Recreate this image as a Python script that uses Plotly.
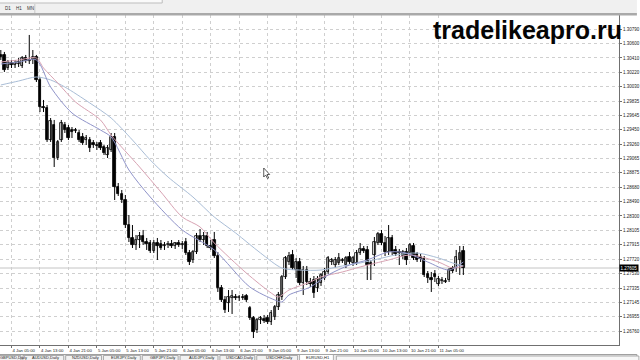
import plotly.graph_objects as go

# ---------------- data ----------------
bar_index = list(range(-1, 130))
opens = [1.30450,1.30450,1.30276,1.30343,1.30316,1.30329,1.30303,1.30409,1.30369,1.30383,
 1.30423,1.30116,1.29755,1.29742,1.29314,1.29515,1.29074,1.29314,1.29515,1.29475,
 1.29448,1.29435,1.29408,1.29354,1.29314,1.29314,1.29274,1.29248,1.29274,1.29221,
 1.29114,1.29181,1.29354,1.28687,1.28593,1.28513,1.28179,1.28006,1.27912,1.27979,
 1.28032,1.27952,1.27939,1.27832,1.27939,1.27926,1.27899,1.27912,1.27926,1.27899,
 1.27939,1.27912,1.27952,1.27805,1.27712,1.27819,1.28032,1.27979,1.28032,1.27899,
 1.27979,1.27765,1.27338,1.27178,1.27138,1.27205,1.27218,1.27205,1.27218,1.27231,
 1.27071,1.26937,1.26777,1.26911,1.26924,1.26937,1.26884,1.26951,1.27084,1.27218,
 1.27485,1.27685,1.27779,1.27578,1.27685,1.27405,1.27578,1.27418,1.27445,1.27338,
 1.27405,1.27472,1.27552,1.27685,1.27645,1.27672,1.27699,1.27645,1.27752,1.27672,
 1.27672,1.27805,1.27859,1.27846,1.27672,1.27779,1.27939,1.28059,1.27939,1.27819,
 1.28006,1.27846,1.27819,1.27765,1.27819,1.27805,1.27899,1.27792,1.27752,1.27725,
 1.27525,1.27472,1.27525,1.27392,1.27432,1.27418,1.27445,1.27605,1.27605,1.27712,
 1.27832]
highs = [1.30516,1.30490,1.30383,1.30383,1.30383,1.30409,1.30436,1.30450,1.30717,1.30516,
 1.30450,1.30156,1.29849,1.29782,1.29608,1.29582,1.29314,1.29582,1.29555,1.29515,
 1.29488,1.29475,1.29448,1.29408,1.29381,1.29354,1.29314,1.29288,1.29314,1.29248,
 1.29248,1.29408,1.29408,1.28740,1.28647,1.28580,1.28313,1.28179,1.28046,1.28086,
 1.28113,1.28006,1.27979,1.27979,1.28006,1.27979,1.27952,1.27966,1.27979,1.27952,
 1.27979,1.27966,1.28006,1.27846,1.27846,1.28073,1.28126,1.28086,1.28086,1.27979,
 1.28086,1.27819,1.27378,1.27231,1.27311,1.27311,1.27258,1.27245,1.27258,1.27258,
 1.27098,1.26964,1.26937,1.26964,1.26978,1.26978,1.27044,1.27111,1.27285,1.27512,
 1.27765,1.27819,1.27846,1.27739,1.27739,1.27632,1.27632,1.27472,1.27498,1.27498,
 1.27538,1.27605,1.27765,1.27739,1.27752,1.27805,1.27739,1.27765,1.27819,1.27765,
 1.27846,1.27939,1.27899,1.27899,1.27712,1.28019,1.28086,1.28113,1.28032,1.28179,
 1.28046,1.27899,1.27859,1.27846,1.27872,1.27939,1.27939,1.27819,1.27792,1.27765,
 1.27565,1.27552,1.27578,1.27498,1.27485,1.27472,1.27605,1.27632,1.27846,1.27899,
 1.27899]
lows = [1.30383,1.30223,1.30249,1.30276,1.30276,1.30289,1.30276,1.30343,1.30329,1.30329,
 1.30089,1.29688,1.29688,1.29288,1.29288,1.28954,1.29047,1.29288,1.29408,1.29314,
 1.29341,1.29408,1.29288,1.29248,1.29248,1.29154,1.29208,1.29181,1.29181,1.29114,
 1.29074,1.29154,1.28513,1.28567,1.28473,1.28139,1.27952,1.27872,1.27846,1.27872,
 1.27912,1.27846,1.27805,1.27805,1.27712,1.27846,1.27846,1.27872,1.27872,1.27859,
 1.27886,1.27859,1.27779,1.27645,1.27672,1.27792,1.27952,1.27912,1.27872,1.27846,
 1.27739,1.27285,1.27151,1.27004,1.27018,1.26991,1.27178,1.27164,1.27178,1.27151,
 1.26911,1.26670,1.26737,1.26857,1.26871,1.26857,1.26844,1.26911,1.27044,1.27178,
 1.27458,1.27645,1.27578,1.27472,1.27378,1.27245,1.27378,1.27351,1.27205,1.27285,
 1.27365,1.27445,1.27525,1.27645,1.27605,1.27645,1.27672,1.27605,1.27659,1.27632,
 1.27645,1.27779,1.27805,1.27445,1.27445,1.27632,1.27912,1.27912,1.27765,1.27779,
 1.27779,1.27765,1.27645,1.27725,1.27645,1.27765,1.27712,1.27685,1.27685,1.27485,
 1.27405,1.27285,1.27418,1.27365,1.27392,1.27405,1.27418,1.27538,1.27552,1.27512,
 1.27512]
closes = [1.30423,1.30249,1.30356,1.30316,1.30343,1.30356,1.30409,1.30369,1.30383,1.30423,
 1.30116,1.29755,1.29742,1.29314,1.29568,1.29074,1.29288,1.29541,1.29448,1.29341,
 1.29421,1.29448,1.29314,1.29274,1.29341,1.29208,1.29248,1.29234,1.29208,1.29141,
 1.29208,1.29354,1.28687,1.28593,1.28513,1.28179,1.28006,1.27912,1.27979,1.28032,
 1.27952,1.27926,1.27832,1.27939,1.27899,1.27872,1.27912,1.27926,1.27899,1.27939,
 1.27912,1.27926,1.27805,1.27685,1.27819,1.28032,1.27979,1.28032,1.27899,1.27872,
 1.27765,1.27338,1.27178,1.27044,1.27218,1.27231,1.27205,1.27218,1.27205,1.27178,
 1.26937,1.26751,1.26911,1.26937,1.26897,1.26884,1.27004,1.27084,1.27245,1.27485,
 1.27739,1.27765,1.27605,1.27685,1.27405,1.27578,1.27418,1.27392,1.27271,1.27458,
 1.27512,1.27552,1.27739,1.27712,1.27712,1.27739,1.27712,1.27739,1.27685,1.27739,
 1.27805,1.27859,1.27832,1.27645,1.27645,1.27952,1.28059,1.27939,1.27819,1.28006,
 1.27819,1.27792,1.27805,1.27819,1.27712,1.27912,1.27739,1.27712,1.27725,1.27512,
 1.27472,1.27445,1.27485,1.27458,1.27445,1.27432,1.27578,1.27565,1.27752,1.27805,
 1.27605]

# moving-average lines (bar index, price)
ma_slow_x = [-1, 4, 9, 13, 17, 24, 30, 36, 41, 46, 53, 59, 65, 72, 78, 83, 89, 95, 100, 105, 110, 116, 122, 126, 129]
ma_slow_y = [1.30049,1.30102,1.30156,1.30116,1.30022,1.29809,1.29608,1.29314,1.29047,1.28820,1.28553,1.28286,1.28073,
             1.27805,1.27605,1.27578,1.27578,1.27632,1.27672,1.27725,1.27779,1.27805,1.27739,1.27672,1.27632]
ma_mid_x = [-1, 4, 9, 11, 15, 20, 27, 30, 38, 44, 50, 55, 59, 68, 75, 77, 80, 86, 89, 95, 100, 108, 114, 122, 126, 129]
ma_mid_y = [1.30356,1.30383,1.30409,1.30276,1.30076,1.29822,1.29582,1.29381,1.28954,1.28620,1.28286,1.28153,1.27939,
            1.27538,1.27271,1.27218,1.27311,1.27418,1.27485,1.27552,1.27619,1.27712,1.27779,1.27685,1.27605,1.27632]
ma_fast_x = [-1, 4, 9, 13, 19, 27, 30, 35, 41, 50, 59, 69, 76, 78, 80, 86, 91, 97, 102, 108, 113, 119, 125, 129]
ma_fast_y = [1.30329,1.30356,1.30383,1.30022,1.29675,1.29448,1.29354,1.28914,1.28553,1.28113,1.27846,1.27351,1.27178,
             1.27151,1.27245,1.27351,1.27512,1.27645,1.27712,1.27819,1.27805,1.27685,1.27578,1.27685]

time_tick_bars = [2, 10, 18, 26, 34, 42, 50, 58, 66, 74, 82, 90, 98, 106, 114, 122]
time_tick_text = ["4 Jan 05:00", "4 Jan 13:00", "4 Jan 21:00", "5 Jan 05:00", "5 Jan 13:00", "5 Jan 21:00",
                  "6 Jan 05:00", "6 Jan 13:00", "6 Jan 21:00", "9 Jan 05:00", "9 Jan 13:00", "9 Jan 21:00",
                  "10 Jan 05:00", "10 Jan 13:00", "10 Jan 21:00", "11 Jan 05:00"]
price_ticks = [1.30790, 1.30600, 1.30410, 1.30220, 1.30030, 1.29835, 1.29645, 1.29450, 1.29260, 1.29065,
               1.28875, 1.28680, 1.28490, 1.28300, 1.28105, 1.27915, 1.27720, 1.27530, 1.27335, 1.27145,
               1.26955, 1.26760, 1.26570]
tab_names = ["GBPUSD,Daily", "AUDUSD,Daily", "NZDUSD,Daily", "EURJPY,Daily", "GBPJPY,Daily",
             "AUDJPY,Daily", "USDCAD,Daily", "USDCHF,Daily", "EURUSD,H1"]
period_buttons = ["D1", "H1", "MN"]

# ---------------- layout helpers ----------------
W, H = 640, 360
ML, MR, MT, MB = 0, 18, 15, 15
PW, PH = W - ML - MR, H - MT - MB
def PX(px):
    return (px - ML) / PW
def PY(py):
    return (H - MB - py) / PH

FONT = "Liberation Sans, Arial"
fig = go.Figure()

# wicks
wx, wy = [], []
for i, h, l in zip(bar_index, highs, lows):
    wx += [i, i, None]
    wy += [l, h, None]
fig.add_trace(go.Scatter(x=wx, y=wy, mode="lines", line=dict(color="black", width=1),
                         hoverinfo="skip", showlegend=False))

# bodies
body_base = [min(o, c) for o, c in zip(opens, closes)]
body_len = [max(abs(c - o), 0.00002) for o, c in zip(opens, closes)]
body_col = ["white" if c >= o else "black" for o, c in zip(opens, closes)]
fig.add_trace(go.Bar(x=bar_index, y=body_len, base=body_base, width=0.7,
                     marker=dict(color=body_col, line=dict(color="black", width=0.8)),
                     showlegend=False, hoverinfo="skip"))

# moving averages
for xs, ys, col in [(ma_slow_x, ma_slow_y, "#a9bdd6"),
                    (ma_mid_x, ma_mid_y, "#d8a3b3"),
                    (ma_fast_x, ma_fast_y, "#8f93c9")]:
    fig.add_trace(go.Scatter(x=xs, y=ys, mode="lines", line=dict(color=col, width=1, shape="spline", smoothing=0.8),
                             hoverinfo="skip", showlegend=False))

last = closes[-1]
shapes = []
# bid line
shapes.append(dict(type="line", xref="paper", x0=0, x1=1, yref="y", y0=last, y1=last,
                   line=dict(color="#c4c4c4", width=1), layer="below"))
# top toolbar
shapes.append(dict(type="rect", xref="paper", yref="paper", x0=PX(0), x1=PX(640), y0=PY(0), y1=PY(13),
                   fillcolor="#f0f0f0", line=dict(width=0), layer="above"))
shapes.append(dict(type="rect", xref="paper", yref="paper", x0=PX(-1), x1=PX(163), y0=PY(-1), y1=PY(3),
                   fillcolor="#fafafa", line=dict(color="#bdbdbd", width=1), layer="above"))
shapes.append(dict(type="line", xref="paper", yref="paper", x0=PX(35), x1=PX(35), y0=PY(4), y1=PY(13),
                   line=dict(color="#c8c8c8", width=1)))
shapes.append(dict(type="rect", xref="paper", yref="paper", x0=PX(0), x1=PX(640), y0=PY(13), y1=PY(15.5),
                   fillcolor="#a9a9a9", line=dict(width=0), layer="above"))
# bottom tabs
shapes.append(dict(type="rect", xref="paper", yref="paper", x0=PX(0), x1=PX(640), y0=PY(354.5), y1=PY(361),
                   fillcolor="#ececec", line=dict(color="#a0a0a0", width=1), layer="above"))
tab_edges = [-20, 22, 65, 103, 142, 180, 220, 257, 300, 336]
for k in range(len(tab_names)):
    x0, x1 = tab_edges[k], tab_edges[k + 1]
    active = k == len(tab_names) - 1
    shapes.append(dict(type="rect", xref="paper", yref="paper", x0=PX(x0 + 1), x1=PX(x1 - 1),
                       y0=PY(355.5 if not active else 354.5), y1=PY(362),
                       fillcolor="white" if active else "#f2f2f2", line=dict(color="#9a9a9a", width=0.8),
                       layer="above"))
shapes.append(dict(type="rect", xref="paper", yref="paper", x0=PX(338), x1=PX(642), y0=PY(356), y1=PY(362),
                   fillcolor="#f7f7f7", line=dict(color="#9a9a9a", width=0.8), layer="above"))
# mouse cursor
cur = [(265, 168), (265, 177), (267, 175), (268.8, 178.6), (270, 178), (268.3, 174.5), (271, 174.5)]
path = "M " + " L ".join(f"{PX(a):.5f},{PY(b):.5f}" for a, b in cur) + " Z"
shapes.append(dict(type="path", xref="paper", yref="paper", path=path, fillcolor="white",
                   line=dict(color="#333333", width=0.8), layer="above"))

annotations = []
# watermark
annotations.append(dict(xref="paper", yref="paper", x=PX(434), y=PY(30), xanchor="left", yanchor="middle",
                        text="<b>tradelikeapro.ru</b>", showarrow=False, borderpad=0,
                        font=dict(family=FONT, size=25, color="#050505")))
# period buttons
for k, t in enumerate(period_buttons):
    annotations.append(dict(xref="paper", yref="paper", x=PX(3 + k * 11), y=PY(8.5), xanchor="left",
                            yanchor="middle", text=t, showarrow=False,
                            font=dict(family=FONT, size=4.5, color="#333")))
# tab labels
for k, t in enumerate(tab_names):
    annotations.append(dict(xref="paper", yref="paper", x=PX(max((tab_edges[k] + tab_edges[k + 1]) / 2 + 2, 14)),
                            y=PY(357.6), xanchor="center", yanchor="middle", text=t, showarrow=False,
                            borderpad=0, font=dict(family=FONT, size=4.0, color="#222")))
# current price box
annotations.append(dict(xref="paper", yref="y", x=1.0, y=last, xanchor="left", yanchor="middle",
                        text=f"{last:.5f}", showarrow=False, bgcolor="black", borderpad=0.5,
                        font=dict(family=FONT, size=4.5, color="white")))

fig.update_layout(
    width=W, height=H, margin=dict(l=ML, r=MR, t=MT, b=MB),
    paper_bgcolor="white", plot_bgcolor="white", bargap=0, showlegend=False,
    shapes=shapes, annotations=annotations,
    xaxis=dict(range=[(0 - 4.4) / 3.575, (622 - 4.4) / 3.575], tickvals=time_tick_bars, ticktext=time_tick_text,
               ticklabelposition="outside right", ticks="outside", ticklen=2, tickcolor="#707070",
               tickangle=0, ticklabelstandoff=1,
               showgrid=True, gridcolor="#cfcfcf", griddash="dot", gridwidth=1,
               showline=True, linecolor="#707070", linewidth=1, zeroline=False,
               tickfont=dict(family=FONT, size=4.3, color="#222"), fixedrange=True),
    yaxis=dict(range=[1.265768, 1.309836], side="right", tickvals=price_ticks,
               ticktext=[f"{v:.5f}" for v in price_ticks], ticks="outside", ticklen=2, tickcolor="#707070",
               showgrid=True, gridcolor="#cfcfcf", griddash="dot", gridwidth=1,
               showline=True, linecolor="#707070", linewidth=1, zeroline=False,
               tickfont=dict(family=FONT, size=4.5, color="#222"), fixedrange=True),
)
fig.write_html("out.html")
